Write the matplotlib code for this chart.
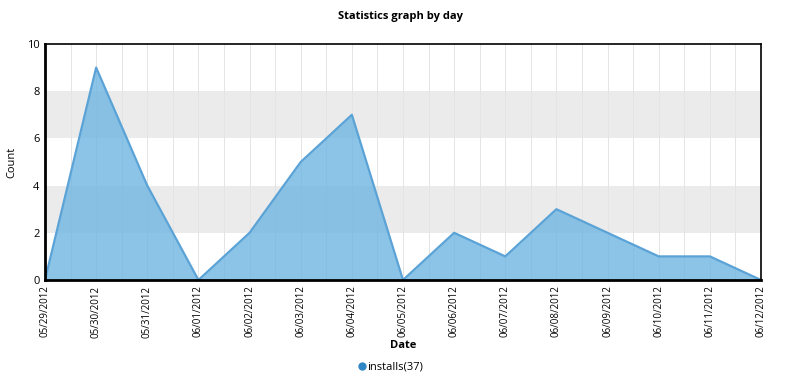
import matplotlib
matplotlib.use("Agg")
import matplotlib.pyplot as plt
import numpy as np

dates = ["05/29/2012", "05/30/2012", "05/31/2012", "06/01/2012", "06/02/2012",
         "06/03/2012", "06/04/2012", "06/05/2012", "06/06/2012", "06/07/2012",
         "06/08/2012", "06/09/2012", "06/10/2012", "06/11/2012", "06/12/2012"]
installs = [0, 9, 4, 0, 2, 5, 7, 0, 2, 1, 3, 2, 1, 1, 0]
y_ticks = [0, 2, 4, 6, 8, 10]

plt.rcParams['font.family'] = ['Open Sans', 'DejaVu Sans']

fig = plt.figure(figsize=(8, 3.83), dpi=100)
ax = fig.add_axes([45/800, 1-280/383, (761-45)/800, (280-44)/383])

x = np.arange(len(dates))
ax.set_xlim(x[0], x[-1])
ax.set_ylim(0, 10)

# alternating bands
for lo in (2, 6):
    ax.axhspan(lo, lo + 2, color='#ebebeb', zorder=0, lw=0)

# vertical half-day grid
for gx in np.arange(x[0], x[-1] + 0.01, 0.5):
    ax.axvline(gx, color='#e4e4e4', lw=0.7, zorder=1)

ax.fill_between(x, installs, 0, color='#6cb4e2', alpha=0.78, lw=0, zorder=2)
ax.plot(x, installs, color='#5ba3d6', lw=1.6, zorder=4)

ax.set_xticks(x)
ax.set_xticklabels(dates, rotation=90, fontsize=7)
ax.set_yticks(y_ticks)
ax.set_yticklabels([str(v) for v in y_ticks], fontsize=8)
ax.tick_params(length=0, pad=4)

for s in ax.spines.values():
    s.set_color('black')
    s.set_linewidth(1.2)
    s.set_zorder(5)
ax.spines['left'].set_linewidth(2)
ax.spines['bottom'].set_linewidth(2)

fig.text(0.5, 1-17/383, "Statistics graph by day", ha='center', va='center',
         fontsize=8, fontweight='bold')
fig.text(12/800, 1-162/383, "Count", rotation=90, ha='center', va='center', fontsize=8)
fig.text(403/800, 1-346/383, "Date", ha='center', va='center', fontsize=8, fontweight='bold')

leg = ax.legend(handles=[plt.Line2D([], [], marker='o', ls='', color='#2f86c4',
                                    markersize=5, label='installs(37)')],
                loc='center', bbox_to_anchor=(390/800, 1-367/383),
                bbox_transform=fig.transFigure, frameon=False, fontsize=8,
                handletextpad=0.1, handlelength=0.8)

fig.savefig("out.png", dpi=100)
